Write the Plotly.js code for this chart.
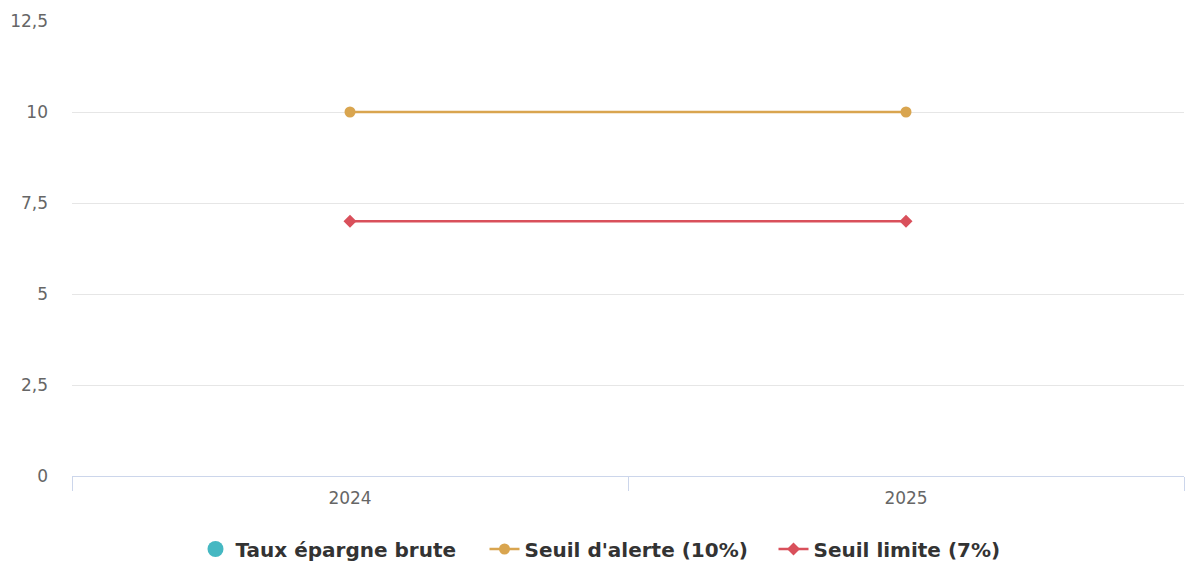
<!DOCTYPE html>
<html>
<head>
<meta charset="utf-8">
<script src="https://cdn.plot.ly/plotly-3.0.1.min.js"></script>
<style>html,body{margin:0;padding:0;background:#fff;}#chart{width:1186px;height:563px;}</style>
</head>
<body>
<div id="chart"></div>
<script>
const categories = ["2024", "2025"];
const tauxEpargne = [null, null];
const seuilAlerte = [10, 10];
const seuilLimite = [7, 7];
const yTicks = [0, 2.5, 5, 7.5, 10, 12.5];

const traces = [
  {
    type: "scatter", mode: "markers", name: "Taux épargne brute",
    x: categories, y: tauxEpargne,
    marker: {color: "#45b8c2", size: 18, symbol: "circle"},
    hoverinfo: "skip"
  },
  {
    type: "scatter", mode: "lines+markers", name: "Seuil d'alerte (10%)",
    x: categories, y: seuilAlerte,
    line: {color: "#d9a54f", width: 2.5},
    marker: {color: "#d9a54f", size: 11, symbol: "circle"}
  },
  {
    type: "scatter", mode: "lines+markers", name: "Seuil limite (7%)",
    x: categories, y: seuilLimite,
    line: {color: "#d9505b", width: 2.5},
    marker: {color: "#d9505b", size: 10, symbol: "diamond"}
  }
];

const layout = {
  width: 1186, height: 563,
  margin: {l: 72, r: 2, t: 21, b: 87, autoexpand: false},
  paper_bgcolor: "#fff", plot_bgcolor: "#fff",
  separators: ", ",
  font: {family: "DejaVu Sans, sans-serif", color: "#666666", size: 17},
  showlegend: true,
  xaxis: {
    type: "category", range: [-0.5, 1.5],
    showgrid: false, showline: true, linecolor: "#ccd6eb", linewidth: 1,
    ticks: "outside", tickson: "boundaries", ticklen: 14, tickcolor: "#ccd6eb", tickwidth: 1,
    tickfont: {size: 17, color: "#666666"}, zeroline: false, ticklabelstandoff: 7
  },
  yaxis: {
    range: [0, 12.5], tickvals: yTicks, showgrid: true, gridcolor: "#e6e6e6", gridwidth: 1,
    zeroline: false, showline: false, ticks: "", ticklabelstandoff: 23,
    tickfont: {size: 17, color: "#666666"}
  },
  legend: {
    orientation: "h", x: 0.5 + 36 / 1186, xanchor: "center", xref: "container",
    y: 14 / 563, yanchor: "middle", yref: "container",
    font: {size: 20, color: "#333333", family: "DejaVu Sans, sans-serif", weight: "bold"},
    itemwidth: 30, entrywidth: 244, tracegroupgap: 0
  }
};

Plotly.newPlot("chart", traces, layout, {displayModeBar: false, staticPlot: true});
</script>
</body>
</html>
